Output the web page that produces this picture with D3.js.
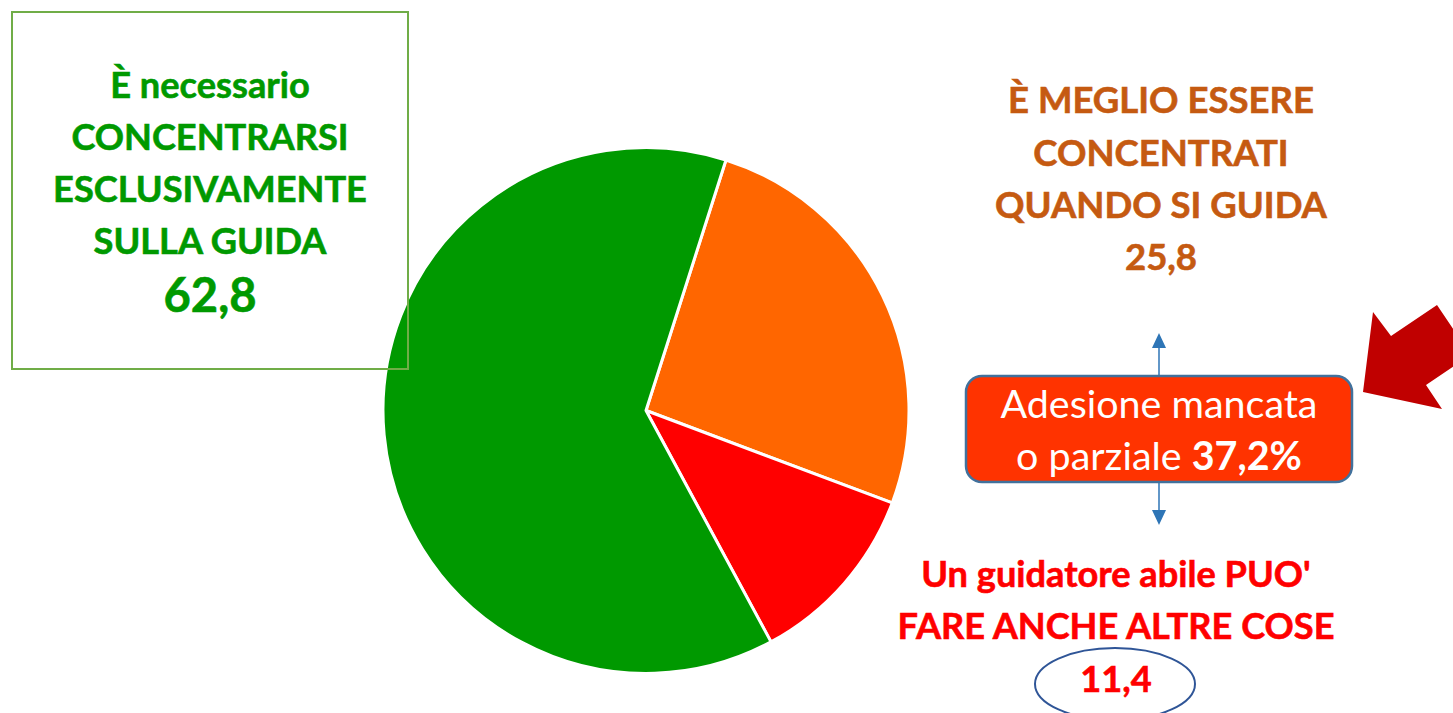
<!DOCTYPE html>
<html><head><meta charset="utf-8">
<script src="https://cdn.jsdelivr.net/npm/d3@7"></script>
<style>html,body{margin:0;padding:0;background:#fff;}svg{display:block;}</style>
</head><body>
<svg id="c" width="1453" height="713"></svg>
<script>
const categories = ["È MEGLIO ESSERE CONCENTRATI QUANDO SI GUIDA", "Un guidatore abile PUO' FARE ANCHE ALTRE COSE", "È necessario CONCENTRARSI ESCLUSIVAMENTE SULLA GUIDA"];
const values = [25.8, 11.4, 62.8];
const colors = ["#FF6600", "#FF0000", "#009900"];
const greenLines = ["È necessario", "CONCENTRARSI", "ESCLUSIVAMENTE", "SULLA GUIDA"];
const orangeLines = ["È MEGLIO ESSERE", "CONCENTRATI", "QUANDO SI GUIDA"];
const redLines = ["Un guidatore abile PUO'", "FARE ANCHE ALTRE COSE"];
const missedLabel = ["Adesione mancata", "o parziale "];
const missedValue = "37,2%";
const fmt = v => String(v).replace(".", ",");

const svg = d3.select("#c");
const FONT = "Lato, 'Open Sans', sans-serif";

// pie
const cx = 646, cy = 410.5, R = 263;
const start = 17.7 * Math.PI / 180;
const pie = d3.pie().sort(null).startAngle(start).endAngle(start + 2 * Math.PI);
const arc = d3.arc().innerRadius(0).outerRadius(R);
svg.append("g").attr("transform", `translate(${cx},${cy})`)
  .selectAll("path").data(pie(values)).join("path")
  .attr("d", arc).attr("fill", (d, i) => colors[i])
  .attr("stroke", "#fff").attr("stroke-width", 3).attr("stroke-linejoin", "round");

// helper: fit text block
function block(lines, x, baselines, color, weight, refIdx, refWidth) {
  const g = svg.append("g");
  const t = lines.map((s, i) => g.append("text").attr("x", x).attr("y", baselines[i])
    .attr("text-anchor", "middle").attr("fill", color).attr("font-family", FONT)
    .attr("stroke", color).attr("stroke-width", 0.6)
    .attr("font-weight", weight).attr("font-size", 30).text(s));
  const w = t[refIdx].node().getComputedTextLength();
  const fs = 30 * refWidth / w;
  t.forEach(n => n.attr("font-size", fs));
  return fs;
}

// left box
svg.append("rect").attr("x", 12).attr("y", 12).attr("width", 396).attr("height", 357)
  .attr("fill", "none").attr("stroke", "#70AD47").attr("stroke-width", 2);
const gfs = block(greenLines, 210, [98, 150, 202, 254], "#009900", "bold", 2, 314);
svg.append("text").attr("x", 210).attr("y", 312).attr("text-anchor", "middle")
  .attr("fill", "#009900").attr("stroke", "#009900").attr("stroke-width", 0.6)
  .attr("font-family", FONT).attr("font-weight", "bold")
  .attr("font-size", gfs * 1.3).text(fmt(values[2]));

// orange block
block(orangeLines.concat([fmt(values[0])]), 1161, [113, 166, 218, 270], "#C55A11", "bold", 2, 332);

// red block
block(redLines.concat([fmt(values[1])]), 1116, [587, 639, 692], "#FF0000", "bold", 1, 437);
svg.append("ellipse").attr("cx", 1115).attr("cy", 684).attr("rx", 80).attr("ry", 36)
  .attr("fill", "none").attr("stroke", "#2F5597").attr("stroke-width", 2);

// blue arrows
const blue = "#2E75B6";
svg.append("line").attr("x1", 1159).attr("x2", 1159).attr("y1", 346).attr("y2", 376).attr("stroke", blue).attr("stroke-width", 1.5);
svg.append("path").attr("d", "M1159,333 L1166,348 L1152,348 Z").attr("fill", blue);
svg.append("line").attr("x1", 1159).attr("x2", 1159).attr("y1", 482).attr("y2", 512).attr("stroke", blue).attr("stroke-width", 1.5);
svg.append("path").attr("d", "M1159,525 L1166,510 L1152,510 Z").attr("fill", blue);

// red rounded box
svg.append("rect").attr("x", 966).attr("y", 376).attr("width", 386).attr("height", 106).attr("rx", 16)
  .attr("fill", "#FF3300").attr("stroke", "#41719C").attr("stroke-width", 2.5);
const t1 = svg.append("text").attr("x", 1159).attr("y", 418).attr("text-anchor", "middle").attr("fill", "#fff")
  .attr("font-family", FONT).attr("font-size", 30).text(missedLabel[0]);
const t2 = svg.append("text").attr("x", 1159).attr("y", 470).attr("text-anchor", "middle").attr("fill", "#fff")
  .attr("font-family", FONT).attr("font-size", 30);
t2.append("tspan").text(missedLabel[1]);
t2.append("tspan").attr("font-weight", "bold").text(missedValue);
const ww = t1.node().getComputedTextLength();
const wfs = 30 * 317 / ww;
t1.attr("font-size", wfs); t2.attr("font-size", wfs);

// big dark-red arrow
svg.append("path")
  .attr("d", "M1363,392 L1373,312 L1391,336 L1437,305 L1470.6,354.9 L1426,385 L1442,409 Z")
  .attr("fill", "#C00000");
</script>
</body></html>
